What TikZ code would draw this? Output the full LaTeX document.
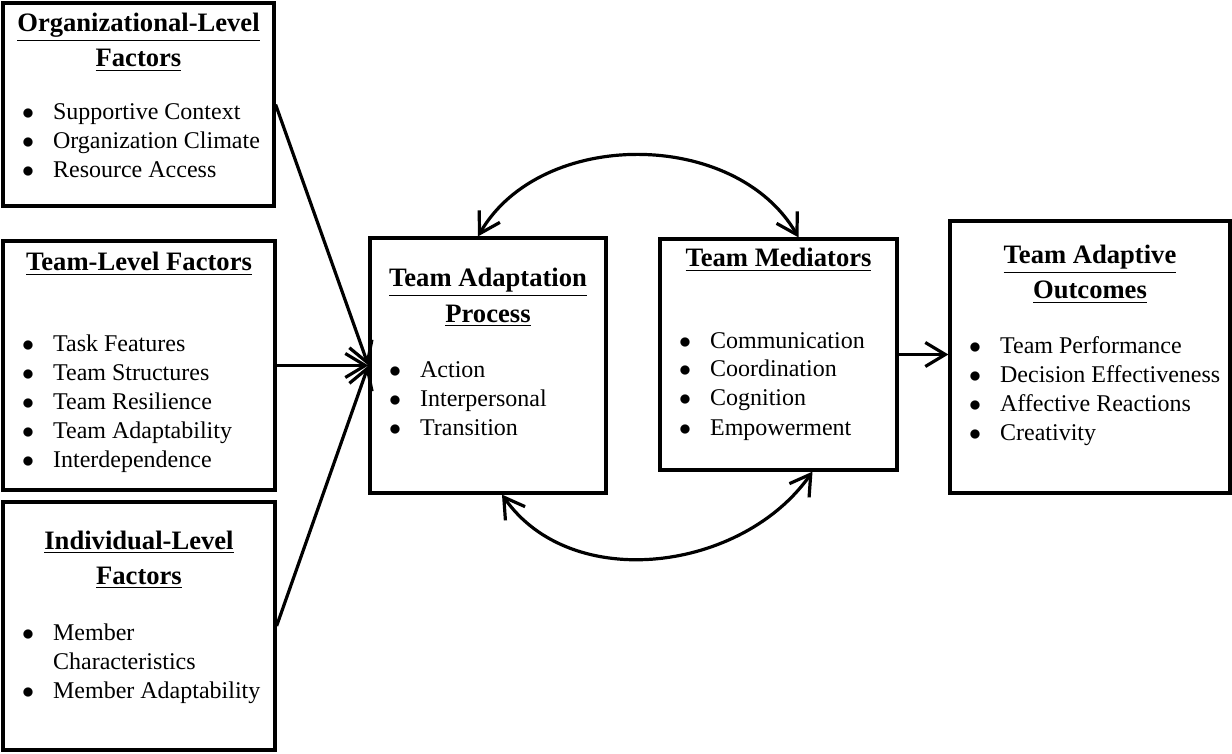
\documentclass[tikz,border=0pt]{standalone}
\usepackage{fontspec}
\setmainfont{Liberation Serif}
\usetikzlibrary{arrows.meta}
\usetikzlibrary{fit}

\newcommand{\itm}[1]{\makebox[15.5pt][l]{$\bullet$}#1}

\begin{document}
\begin{tikzpicture}
	[x=0.5pt, y=-0.5pt, line width=1.6pt,
	box/.style = {draw, rectangle, inner sep=0pt, fit={#1}},
	ttl/.style = {anchor=base, align=center, inner sep=0pt, font=\fontsize{13.3}{17.5}\selectfont\bfseries},
	lst/.style = {anchor=base west, align=left, inner sep=0pt, font=\fontsize{12}{14.5}\selectfont},
	>={Straight Barb[length=10pt,width=12pt]}]
	\useasboundingbox (0,0) rectangle (1232,754);
	\node[box={(3,3) (274,206)}] (org) {};
	\node[box={(3,241) (275,490)}] (team) {};
	\node[box={(3,502) (275,750)}] (indiv) {};
	\node[box={(370,238) (606,493)}] (adapt) {};
	\node[box={(660,239) (897,470)}] (med) {};
	\node[box={(950,221) (1230,493)}] (outc) {};
	\node[ttl] (orgT) at (138.5,67) {\underline{Organizational-Level}\\\underline{Factors}};
	\node[lst] (orgL) at (20.5,178) {\itm{Supportive Context}\\\itm{Organization Climate}\\\itm{Resource Access}};
	\node[ttl] (teamT) at (139,271) {\underline{Team-Level Factors}};
	\node[lst] (teamL) at (20.5,467) {\itm{Task Features}\\\itm{Team Structures}\\\itm{Team Resilience}\\\itm{Team Adaptability}\\\itm{Interdependence}};
	\node[ttl] (indivT) at (139,584) {\underline{Individual-Level}\\\underline{Factors}};
	\node[lst] (indivL) at (20.5,698) {\itm{Member}\\\hspace*{15.5pt}Characteristics\\\itm{Member Adaptability}};
	\node[ttl] (adaptT) at (488,322) {\underline{Team Adaptation}\\\underline{Process}};
	\node[lst] (adaptL) at (387.5,436) {\itm{Action}\\\itm{Interpersonal}\\\itm{Transition}};
	\node[ttl] (medT) at (778.5,267) {\underline{Team Mediators}};
	\node[lst] (medL) at (677.5,435) {\itm{Communication}\\\itm{Coordination}\\\itm{Cognition}\\\itm{Empowerment}};
	\node[ttl] (outcT) at (1090,299) {\underline{Team Adaptive}\\\underline{Outcomes}};
	\node[lst] (outcL) at (967.5,440) {\itm{Team Performance}\\\itm{Decision Effectiveness}\\\itm{Affective Reactions}\\\itm{Creativity}};
	\draw[->] (org.east) -- (adapt.west);
	\draw[->] (team.east) -- (adapt.west);
	\draw[->] (indiv.east) -- (adapt.west);
	\draw[->] (med.east) -- (med.east -| outc.west);
	\draw[<->] ([xshift=-5pt]adapt.north) to [out=60,in=120] ([xshift=10pt]med.north);
	\draw[<->] ([xshift=7pt]adapt.south) to [out=-55,in=-125] ([xshift=17pt]med.south);
\end{tikzpicture}
\end{document}
